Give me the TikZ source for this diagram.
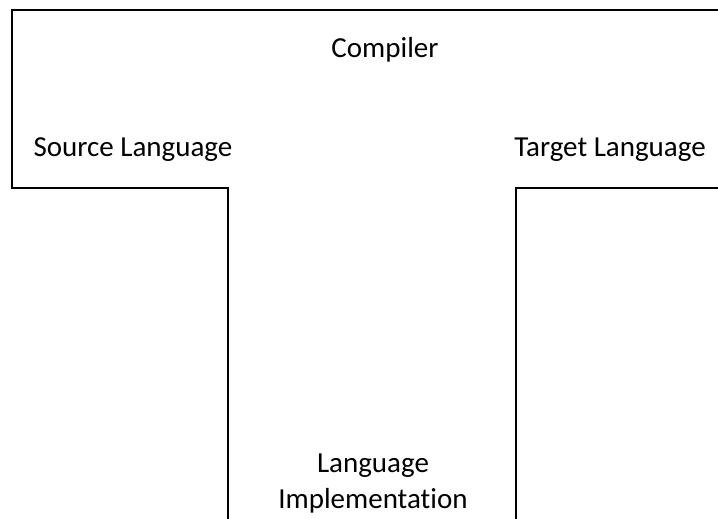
\documentclass[tikz,border=0pt]{standalone}
\usepackage{fontspec}
\setmainfont{Carlito}[Ligatures=NoCommon]
\begin{document}
\begin{tikzpicture}[x=1pt,y=-1pt,
  tline/.style={line width=2pt,line join=miter},
  lbl/.style={font=\fontsize{29}{36}\selectfont,inner sep=0pt,align=center}]
\useasboundingbox (0,0) rectangle (718,519);
\draw[tline] (718,10) -- (12,10) -- (12,188) -- (228,188) -- (228,519);
\draw[tline] (718,188) -- (516,188) -- (516,519);
\node[lbl] (compiler) at (385,50) {Compiler};
\node[lbl] (source) at (133,150) {Source Language};
\node[lbl] (target) at (610,150) {Target Language};
\node[lbl] (impl) at (373,484) {Language\\Implementation};
\end{tikzpicture}
\end{document}
